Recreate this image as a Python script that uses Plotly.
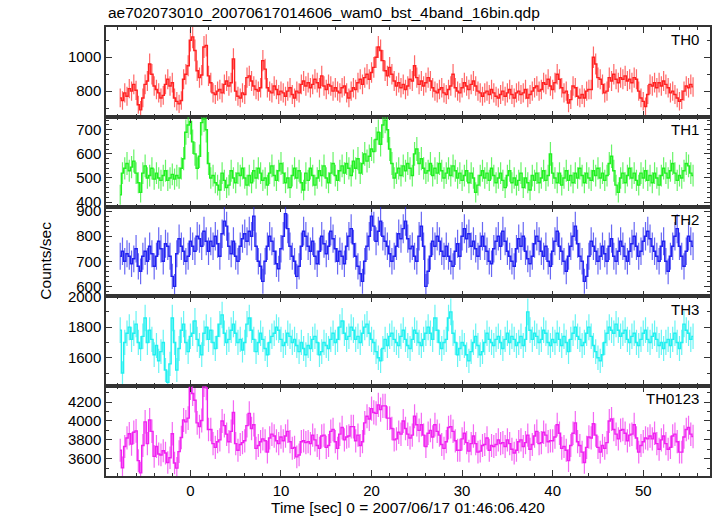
import math
import plotly.graph_objects as go
from plotly.subplots import make_subplots

# ---------------- data (count rates, counts/sec, 0.25 s bins) ----------------
BIN_SEC = 0.25
T_START = -7.75

th0 = [
    760, 745, 790, 770, 815, 800, 840, 805,
    720, 690, 760, 840, 860, 960, 900, 830,
    810, 790, 760, 775, 840, 870, 830, 850,
    760, 740, 725, 745, 870, 900, 950, 1100,
    1120, 1040, 920, 880, 895, 1060, 1070, 890,
    850, 790, 780, 800, 810, 790, 840, 860,
    830, 850, 990, 800, 770, 760, 790, 780,
    880, 890, 860, 830, 810, 800, 820, 980,
    930, 820, 800, 790, 830, 810, 780, 800,
    790, 770, 800, 820, 780, 760, 800, 790,
    840, 860, 830, 850, 820, 840, 870, 850,
    820, 890, 830, 810, 840, 830, 800, 820,
    800, 790, 820, 830, 790, 760, 800, 820,
    810, 850, 870, 840, 880, 900, 870, 910,
    940, 1000, 1060, 1040, 980, 920, 890, 940,
    900, 860, 830, 850, 820, 840, 810, 830,
    870, 860, 950, 880, 840, 860, 830, 850,
    880, 860, 820, 800, 790, 810, 820, 790,
    780, 810, 830, 900, 820, 800, 790, 820,
    850, 830, 810, 840, 860, 830, 800, 790,
    770, 790, 800, 780, 810, 790, 770, 760,
    780, 800, 770, 790, 810, 780, 760, 790,
    800, 780, 790, 810, 760, 780, 800, 820,
    830, 800, 810, 850, 840, 870, 830, 810,
    850, 900, 870, 820, 790, 800, 730, 750,
    830, 820, 770, 760, 780, 760, 800, 810,
    810, 1000, 960, 880, 870, 840, 790, 800,
    880, 860, 900, 870, 850, 880, 870, 890,
    860, 870, 850, 880, 870, 800, 760, 740,
    710, 780, 840, 830, 850, 820, 850, 830,
    860, 840, 820, 790, 800, 780, 760, 740,
    750, 800, 830, 820, 840, 825,
]

th1 = [
    430, 520, 540, 560, 530, 545, 570, 520,
    480, 440, 520, 550, 500, 510, 540, 495,
    520, 500, 490, 510, 530, 490, 500, 515,
    495, 510, 500, 540, 580, 690, 720, 735,
    650, 600, 540, 590, 730, 745, 700, 560,
    500, 510, 480, 470, 450, 520, 490, 460,
    470, 530, 500, 480, 520, 510, 540, 500,
    470, 510, 480, 530, 500, 540, 520, 490,
    500, 470, 520, 550, 510, 490, 530, 560,
    520, 480, 500, 460, 510, 540, 500, 530,
    480, 450, 520, 490, 540, 510, 470, 500,
    530, 510, 550, 500, 480, 520, 560, 510,
    490, 530, 550, 520, 560, 540, 510, 570,
    540, 580, 520, 560, 600, 570, 590, 620,
    610, 660, 690, 640, 720, 740, 700, 620,
    560, 500, 520, 540, 510, 550, 530, 560,
    540, 510, 600, 620, 560, 580, 540, 520,
    530, 560, 510, 540, 520, 560, 530, 500,
    520, 540, 510, 550, 530, 500, 520, 490,
    510, 530, 480, 520, 500, 440, 470, 510,
    530, 500, 520, 490, 540, 510, 480, 500,
    520, 490, 460, 510, 530, 480, 500, 470,
    490, 520, 460, 500, 480, 450, 510, 490,
    520, 480, 500, 530, 490, 510, 600, 520,
    500, 480, 520, 470, 500, 530, 490, 510,
    480, 520, 500, 540, 510, 480, 520, 500,
    490, 530, 510, 540, 500, 520, 490, 510,
    560, 590, 530, 470, 440, 500, 520, 480,
    510, 540, 500, 520, 490, 470, 520, 500,
    530, 490, 510, 480, 520, 500, 470, 510,
    540, 520, 500, 530, 560, 520, 490, 510,
    500, 530, 560, 550, 520, 510,
]

th2 = [
    720, 740, 700, 730, 720, 690, 710, 750,
    680, 660, 720, 740, 700, 760, 730, 680,
    720, 780, 750, 700, 770, 760, 720, 640,
    600, 730, 790, 760, 740, 700, 720, 780,
    760, 740, 800, 790, 760, 820, 780, 740,
    780, 760, 800, 770, 720, 810, 860, 840,
    760, 730, 780, 720, 700, 760, 790, 810,
    780, 820, 800, 880, 760, 700, 680, 620,
    700, 760, 800, 780, 740, 690, 670, 750,
    800, 890, 830, 760, 720, 700, 640, 680,
    760, 820, 800, 760, 740, 780, 720, 690,
    740, 800, 770, 730, 760, 820, 790, 750,
    700, 740, 720, 690, 760, 800, 830, 770,
    720, 680, 650, 620, 700, 760, 800, 880,
    840, 780, 820, 860, 800, 780, 760, 730,
    700, 720, 760, 810, 790, 830, 860, 790,
    750, 760, 720, 700, 800, 840, 760, 600,
    660, 720, 780, 760, 800, 780, 740, 720,
    760, 720, 700, 680, 740, 770, 720, 800,
    830, 790, 810, 760, 780, 750, 720, 760,
    800, 760, 740, 700, 690, 750, 780, 800,
    760, 820, 780, 740, 720, 700, 680, 750,
    790, 760, 800, 740, 710, 690, 720, 770,
    800, 780, 740, 720, 760, 700, 680, 740,
    780, 820, 760, 740, 700, 660, 720, 760,
    800, 840, 770, 720, 700, 620, 640, 720,
    780, 760, 740, 700, 720, 760, 730, 700,
    760, 790, 720, 700, 740, 780, 760, 720,
    700, 740, 770, 800, 760, 720, 740, 780,
    800, 820, 790, 760, 740, 720, 700, 760,
    780, 700, 660, 720, 760, 800, 830, 760,
    720, 680, 740, 800, 780, 760,
]

th3 = [
    1780, 1500, 1700, 1760, 1800, 1720, 1760, 1820,
    1700, 1660, 1740, 1860, 1700, 1780, 1720, 1620,
    1680, 1580, 1640, 1700, 1520, 1440, 1560, 1860,
    1700, 1520, 1660, 1780, 1820, 1700, 1640, 1740,
    1760, 1840, 1720, 1680, 1620, 1760, 1800, 1720,
    1780, 1700, 1660, 1740, 1820, 1880, 1760, 1700,
    1720, 1780, 1820, 1760, 1700, 1720, 1650, 1700,
    1820, 1860, 1780, 1720, 1640, 1700, 1760, 1720,
    1660, 1620, 1700, 1740, 1760, 1800, 1780, 1720,
    1680, 1700, 1760, 1740, 1700, 1720, 1680, 1640,
    1700, 1660, 1620, 1680, 1660, 1720, 1740, 1700,
    1620, 1640, 1700, 1680, 1660, 1720, 1760, 1700,
    1720, 1800, 1840, 1760, 1720, 1740, 1800, 1780,
    1720, 1740, 1700, 1760, 1800, 1820, 1760, 1720,
    1700, 1640, 1600, 1580, 1660, 1720, 1680, 1740,
    1760, 1720, 1700, 1680, 1740, 1780, 1720, 1680,
    1660, 1720, 1780, 1760, 1700, 1680, 1720, 1760,
    1800, 1760, 1720, 1860, 1780, 1700, 1660, 1700,
    1720, 1860, 1900, 1760, 1700, 1620, 1660, 1700,
    1680, 1620, 1580, 1640, 1700, 1740, 1680, 1620,
    1640, 1700, 1760, 1720, 1700, 1680, 1720, 1740,
    1700, 1660, 1720, 1760, 1700, 1740, 1720, 1680,
    1700, 1740, 1680, 1720, 1900, 1780, 1720, 1760,
    1740, 1700, 1720, 1780, 1760, 1700, 1680, 1720,
    1700, 1760, 1720, 1680, 1740, 1700, 1640, 1720,
    1760, 1800, 1740, 1720, 1680, 1700, 1760, 1800,
    1740, 1680, 1640, 1600, 1580, 1620, 1700, 1760,
    1800, 1780, 1760, 1820, 1780, 1740, 1760, 1780,
    1720, 1700, 1740, 1760, 1700, 1680, 1720, 1760,
    1780, 1720, 1700, 1740, 1760, 1720, 1680, 1700,
    1660, 1700, 1720, 1680, 1720, 1760, 1700, 1660,
    1700, 1820, 1780, 1760, 1720, 1740,
]

# all-band light curve = sum of the four bands
th0123 = [a + b + c + d for a, b, c, d in zip(th0, th1, th2, th3)]

panel_names = ["TH0", "TH1", "TH2", "TH3", "TH0123"]
panel_values = [th0, th1, th2, th3, th0123]
panel_colors = ["#ff2020", "#20f020", "#2020f0", "#20f0f0", "#f020f0"]
panel_err_colors = ["rgba(255,40,40,0.7)", "rgba(40,240,40,0.7)", "rgba(40,40,240,0.7)",
                    "rgba(40,240,240,0.7)", "rgba(240,40,240,0.7)"]
panel_ranges = [[649, 1178], [381, 754], [560, 918], [1414, 2001], [3417, 4368]]
panel_dtick = [200, 100, 100, 200, 200]
panel_minor = [100, 20, 20, 100, 100]

x_range = [-9.32, 57.37]
time = [T_START + BIN_SEC * i for i in range(len(th0))]

title_text = "ae702073010_20070617014606_wam0_bst_4band_16bin.qdp"
x_title = "Time [sec] 0 = 2007/06/17 01:46:06.420"
y_title = "Counts/sec"

FONT = "Liberation Sans, Arial, sans-serif"
FRAME = "#333333"

fig = make_subplots(rows=5, cols=1, shared_xaxes=True, vertical_spacing=0)

for k, (name, vals) in enumerate(zip(panel_names, panel_values)):
    row = k + 1
    err = [math.sqrt(v * BIN_SEC) / BIN_SEC for v in vals]
    fig.add_trace(
        go.Scatter(
            x=time, y=vals, mode="lines",
            line=dict(shape="hvh", color=panel_colors[k], width=1.4),
            error_y=dict(type="data", array=err, visible=True,
                         color=panel_err_colors[k], thickness=1.2, width=0),
            showlegend=False, hoverinfo="skip",
        ),
        row=row, col=1,
    )
    fig.update_yaxes(
        row=row, col=1,
        range=panel_ranges[k], dtick=panel_dtick[k], tick0=0,
        ticks="inside", ticklen=6, tickwidth=1, tickcolor=FRAME,
        minor=dict(dtick=panel_minor[k], ticks="inside", ticklen=3, tickcolor=FRAME),
        showline=True, linecolor=FRAME, linewidth=1.5, mirror="ticks",
        showgrid=False, zeroline=False,
        tickfont=dict(family=FONT, size=15, color="#000000"),
    )
    fig.update_xaxes(
        row=row, col=1,
        range=x_range, dtick=10, tick0=0,
        ticks="inside", ticklen=6, tickwidth=1, tickcolor=FRAME,
        minor=dict(dtick=2, ticks="inside", ticklen=3, tickcolor=FRAME),
        showline=True, linecolor=FRAME, linewidth=1.5, mirror="ticks",
        showgrid=False, zeroline=False,
        showticklabels=(row == 5),
        tickfont=dict(family=FONT, size=15, color="#000000"),
    )
    yref = "y domain" if k == 0 else f"y{k + 1} domain"
    xref = "x domain" if k == 0 else f"x{k + 1} domain"
    fig.add_annotation(
        text=name, xref=xref, yref=yref, x=0.985, y=0.975,
        xanchor="right", yanchor="top", showarrow=False,
        font=dict(family=FONT, size=15, color="#000000"),
    )

fig.add_annotation(
    text=title_text, xref="paper", yref="paper", x=0, y=1, yshift=4,
    xanchor="left", yanchor="bottom", showarrow=False,
    font=dict(family=FONT, size=15.5, color="#000000"),
)
fig.add_annotation(
    text=x_title, xref="paper", yref="paper", x=0.5, y=0, yshift=-31,
    xanchor="center", yanchor="middle", showarrow=False,
    font=dict(family=FONT, size=15.5, color="#000000"),
)
fig.add_annotation(
    text=y_title, xref="paper", yref="paper", x=-0.1007, y=0.48,
    xanchor="center", yanchor="middle", textangle=-90, showarrow=False,
    font=dict(family=FONT, size=15.5, color="#000000"),
)

fig.update_layout(
    width=717, height=516,
    margin=dict(l=106, r=5, t=27, b=40),
    paper_bgcolor="white", plot_bgcolor="white",
    font=dict(family=FONT, size=15, color="#000000"),
)

fig.write_html(
    "out.html",
    config={"displayModeBar": False},
    post_script="document.body.style.margin='0px';document.body.style.overflow='hidden';",
)
